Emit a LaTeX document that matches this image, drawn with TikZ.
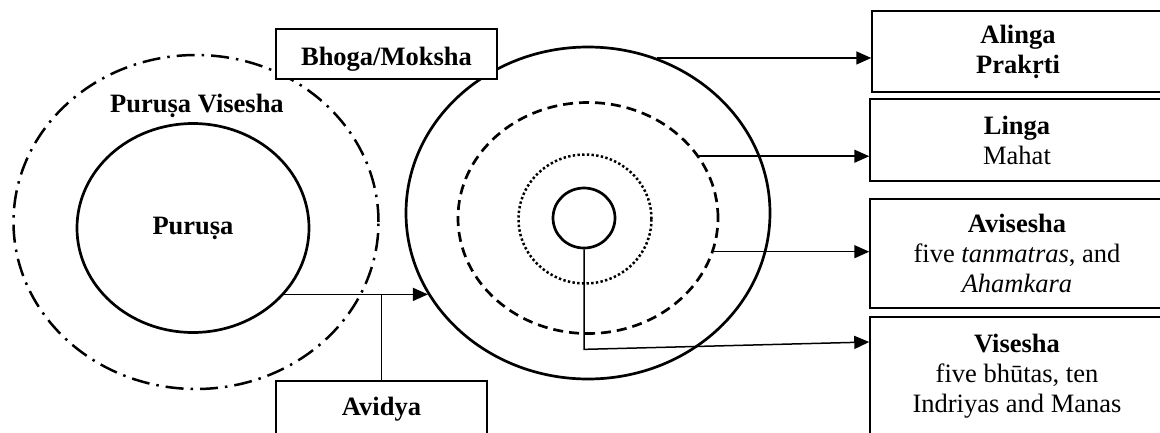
\documentclass[tikz,border=0pt]{standalone}
\usepackage{fontspec}
\setmainfont{Liberation Serif}
\usetikzlibrary{shapes.geometric,arrows.meta}
\begin{document}
\begin{tikzpicture}[x=1pt,y=-1pt,
  txt/.style={font=\fontsize{26.5}{30}\selectfont},
  btxt/.style={font=\fontsize{26.5}{30}\selectfont\bfseries},
  ring/.style={ellipse, draw, line width=2.7pt, inner sep=0pt},
  box/.style={rectangle, draw, fill=white, line width=1.5pt, align=center, inner sep=0pt},
  link/.style={line width=1.5pt},
  arr/.style={link, -{Triangle[length=15pt,width=13pt]}}
]
\useasboundingbox (0,0) rectangle (1160,432);
\clip (0,0) rectangle (1160,432);

% left group: Purusa inside Purusa Visesha
\node[ring, line width=2.5pt, dash pattern=on 18pt off 7pt on 2.5pt off 7pt,
      minimum width=365pt, minimum height=334pt] (pvisesha) at (196,222) {};
\node[ring, btxt, minimum width=232pt, minimum height=209pt] (purusa) at (193,228) {Puruṣa};
\node[btxt] (pvlabel) at (197,106) {Puruṣa Visesha};

% right group: nested levels of Prakrti
\node[ring, minimum width=364pt, minimum height=332pt] (prakrti) at (588,213) {};
\node[ring, dash pattern=on 10pt off 6pt,
      minimum width=260pt, minimum height=231pt] (mahat) at (588,218) {};
\node[ring, line width=2.5pt, dash pattern=on 2.4pt off 2.3pt,
      minimum width=133pt, minimum height=129pt] (tanm) at (585,219) {};
\node[ring, minimum width=62pt, minimum height=60pt] (core) at (584,218) {};

% boxes
\node[box, btxt, minimum width=221pt, minimum height=50pt,
      text height=28pt, text depth=6pt] (bhoga) at (386.5,54) {Bhoga/Moksha};
\node[box, btxt, minimum width=211pt, minimum height=56pt] (avidya) at (381.5,409) {Avidya};
\node[box, btxt, minimum width=292pt, minimum height=81pt] (alinga) at (1018,51.5) {Alinga\\Prakṛti};
\node[box, txt, minimum width=294pt, minimum height=82pt] (linga) at (1017,140)
  {\textbf{Linga}\\Mahat};
\node[box, txt, minimum width=294pt, minimum height=109pt] (avisesha) at (1017,253.5)
  {\textbf{Avisesha}\\five \textit{tanmatras}, and\\\textit{Ahamkara}};
\node[box, txt, minimum width=294pt, minimum height=119pt] (visesha) at (1017,376.5)
  {\textbf{Visesha}\\five bhūtas, ten\\Indriyas and Manas};

% connectors
\draw[arr] (purusa.-36) -- (purusa.-36 -| prakrti.207);
\draw[link] (avidya.north) -- (avidya.north |- purusa.-36);
\draw[arr] (prakrti.66) -- (prakrti.66 -| alinga.west);
\draw[arr] (mahat.29) -- (mahat.29 -| linga.west);
\draw[arr] (mahat.-15) -- (mahat.-15 -| avisesha.west);
\draw[arr] (core.south) -- ([yshift=-100pt]core.south) -- ([yshift=34.5pt]visesha.west);
\end{tikzpicture}
\end{document}
